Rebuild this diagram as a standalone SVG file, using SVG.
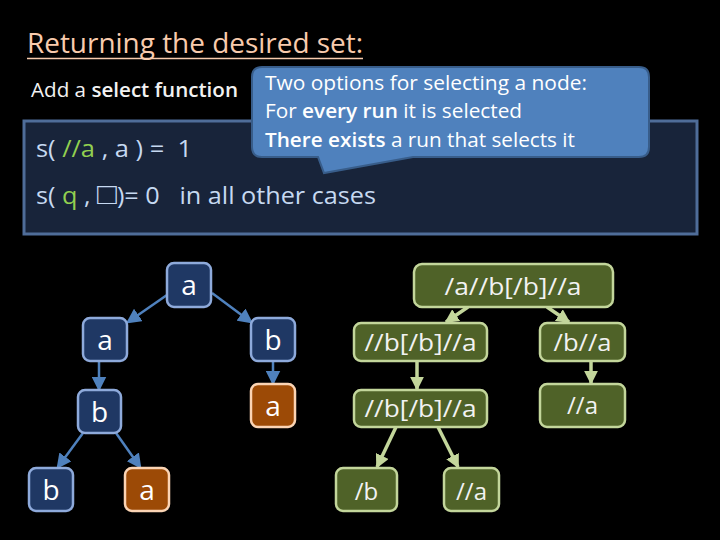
<svg xmlns="http://www.w3.org/2000/svg" width="720" height="540" viewBox="0 0 720 540">
<style>
text{font-family:"Open Sans","Liberation Sans",sans-serif;}
.bn rect{fill:#1f3864;stroke:#8eaadb;stroke-width:2.5;}
.on rect{fill:#9c4a06;stroke:#fbd4b4;stroke-width:2.5;}
.gn rect{fill:#4f6228;stroke:#c3d69b;stroke-width:2.5;}
.lt{font-size:28px;fill:#ffffff;text-anchor:middle;}
.gt{font-size:24px;fill:#f2f2f2;text-anchor:middle;}
.bl{stroke:#4f81bd;stroke-width:2.5;fill:none;marker-end:url(#ab);}
.gl{stroke:#c3d69b;stroke-width:3.5;fill:none;marker-end:url(#ag);}
.st{font-size:23px;fill:#c6d9f1;white-space:pre;}
.gr{fill:#92d050;}
.ct{font-size:20px;fill:#ffffff;}
.b{font-weight:600;}
</style>
<defs>
<marker id="ab" markerWidth="6" markerHeight="6" refX="5" refY="3" orient="auto" markerUnits="strokeWidth"><path d="M0,0 L6,3 L0,6 z" fill="#4f81bd"/></marker>
<marker id="ag" markerWidth="4" markerHeight="4" refX="3.5" refY="2" orient="auto" markerUnits="strokeWidth"><path d="M0,0 L4,2 L0,4 z" fill="#c3d69b"/></marker>
</defs>
<rect width="720" height="540" fill="#000000"/>
<g id="title">
<text x="27" y="53" font-size="28" fill="#f8cbad" textLength="336" lengthAdjust="spacingAndGlyphs">Returning the desired set:</text>
<line x1="27" y1="58.5" x2="363" y2="58.5" stroke="#f8cbad" stroke-width="1.5"/>
</g>
<g id="subtitle">
<text x="31" y="97" font-size="20" fill="#f2f2f2" textLength="207" lengthAdjust="spacingAndGlyphs">Add a <tspan class="b">select function</tspan></text>
</g>
<g id="formula-box">
<rect x="24" y="121" width="673" height="113" fill="#18243a" stroke="#4f6d99" stroke-width="3"/>
<text class="st" x="36" y="157" textLength="156" lengthAdjust="spacingAndGlyphs">s( <tspan class="gr">//a</tspan> , a ) =  1</text>
<text class="st" x="36" y="204" textLength="340" lengthAdjust="spacingAndGlyphs">s( <tspan class="gr">q</tspan> , <tspan font-size="30">□</tspan>)= 0   in all other cases</text>
</g>
<g id="callout">
<path d="M265,67 H639 Q649,67 649,77 V147 Q649,157 639,157 H413 L324,173 L318,157 H262 Q252,157 252,147 V77 Q252,67 262,67 Z" fill="#4f81bd" stroke="#385d8a" stroke-width="2"/>
<text class="ct" x="265" y="90" textLength="322" lengthAdjust="spacingAndGlyphs">Two options for selecting a node:</text>
<text class="ct" x="265" y="118" textLength="257" lengthAdjust="spacingAndGlyphs">For <tspan class="b">every run</tspan> it is selected</text>
<text class="ct" x="265" y="147" textLength="310" lengthAdjust="spacingAndGlyphs"><tspan class="b">There exists</tspan> a run that selects it</text>
</g>
<g id="connectors">
<line class="bl" x1="167" y1="295" x2="128" y2="322"/>
<line class="bl" x1="212" y1="293" x2="251" y2="322"/>
<line class="bl" x1="99" y1="361" x2="99" y2="389"/>
<line class="bl" x1="273" y1="361" x2="273" y2="383"/>
<line class="bl" x1="83" y1="433" x2="58" y2="467"/>
<line class="bl" x1="116" y1="433" x2="140" y2="467"/>
<line class="gl" x1="468" y1="307" x2="446" y2="322"/>
<line class="gl" x1="547" y1="307" x2="569" y2="322"/>
<line class="gl" x1="417" y1="361" x2="417" y2="389"/>
<line class="gl" x1="591" y1="361" x2="591" y2="383"/>
<line class="gl" x1="396" y1="427" x2="377" y2="467"/>
<line class="gl" x1="438" y1="427" x2="458" y2="467"/>
</g>
<g id="t-root" class="bn"><rect x="167" y="263" width="44" height="44" rx="7"/><text class="lt" x="189" y="295">a</text></g>
<g id="t-a1" class="bn"><rect x="83" y="318" width="44" height="43" rx="7"/><text class="lt" x="105" y="350">a</text></g>
<g id="t-b1" class="bn"><rect x="251" y="318" width="44" height="43" rx="7"/><text class="lt" x="273" y="350">b</text></g>
<g id="t-b2" class="bn"><rect x="78" y="390" width="43" height="43" rx="7"/><text class="lt" x="99.5" y="422">b</text></g>
<g id="t-a2" class="on"><rect x="251" y="384" width="44" height="43" rx="7"/><text class="lt" x="273" y="416">a</text></g>
<g id="t-b3" class="bn"><rect x="29" y="468" width="44" height="43" rx="7"/><text class="lt" x="51" y="500">b</text></g>
<g id="t-a3" class="on"><rect x="125" y="468" width="44" height="43" rx="7"/><text class="lt" x="147" y="500">a</text></g>
<g id="q-root" class="gn"><rect x="414" y="264" width="199" height="43" rx="8"/><text class="gt" x="513" y="295" textLength="137" lengthAdjust="spacingAndGlyphs">/a//b[/b]//a</text></g>
<g id="q-l1" class="gn"><rect x="354" y="323" width="133" height="38" rx="7"/><text class="gt" x="420.5" y="351" textLength="112" lengthAdjust="spacingAndGlyphs">//b[/b]//a</text></g>
<g id="q-r1" class="gn"><rect x="540" y="323" width="85" height="38" rx="7"/><text class="gt" x="582.5" y="351" textLength="58" lengthAdjust="spacingAndGlyphs">/b//a</text></g>
<g id="q-l2" class="gn"><rect x="354" y="390" width="133" height="37" rx="7"/><text class="gt" x="420.5" y="417" textLength="112" lengthAdjust="spacingAndGlyphs">//b[/b]//a</text></g>
<g id="q-r2" class="gn"><rect x="540" y="384" width="85" height="43" rx="7"/><text class="gt" x="582.5" y="414">//a</text></g>
<g id="q-b" class="gn"><rect x="336" y="468" width="61" height="43" rx="7"/><text class="gt" x="366.5" y="500">/b</text></g>
<g id="q-a" class="gn"><rect x="444" y="468" width="55" height="43" rx="7"/><text class="gt" x="471.5" y="500">//a</text></g>
</svg>
